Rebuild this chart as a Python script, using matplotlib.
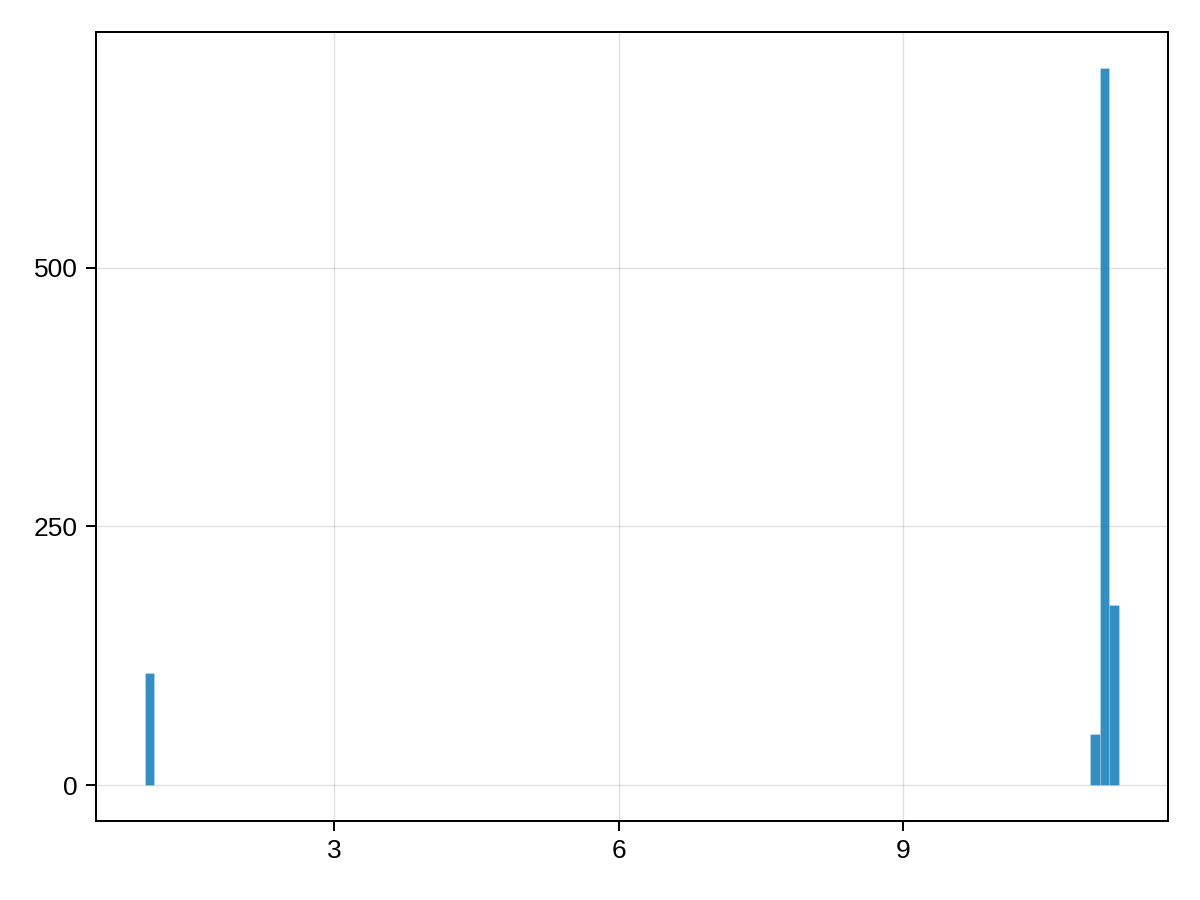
import numpy as np
import matplotlib
matplotlib.use("Agg")
import matplotlib.pyplot as plt

# histogram: 100 equal bins between the data min and max, only non-empty bins kept
data_min = 1.0
data_max = 11.28
n_bins = 100
bin_index = [0, 97, 98, 99]
counts = [108, 49, 693, 174]

xticks = [3, 6, 9]
yticks = [0, 250, 500]

edges = np.linspace(data_min, data_max, n_bins + 1)
width = edges[1] - edges[0]
lefts = edges[bin_index]

plt.rcParams['font.family'] = ['Liberation Sans', 'DejaVu Sans']

fig = plt.figure(figsize=(12, 9), dpi=100)
ax = fig.add_axes([0.08, 0.0878, 0.8933, 0.8766])

ax.bar(lefts, counts, width=width, align='edge',
       color=(0, 114/255, 178/255, 0.8), edgecolor=(1, 1, 1, 0.25), linewidth=0.6, zorder=2)

# makie-like 5% margins
xr = data_max - data_min
ax.set_xlim(data_min - 0.05 * xr, data_max + 0.05 * xr)
ymax = max(counts)
ax.set_ylim(-0.05 * ymax, 1.05 * ymax)

ax.set_xticks(xticks)
ax.set_yticks(yticks)
ax.grid(True, color='black', alpha=0.12, linewidth=1.0, zorder=0)
ax.set_axisbelow(True)
ax.tick_params(direction='out', length=7.2, width=1.44, labelsize=19, pad=6)
for s in ax.spines.values():
    s.set_linewidth(1.44)

fig.savefig('out.png', dpi=100)
